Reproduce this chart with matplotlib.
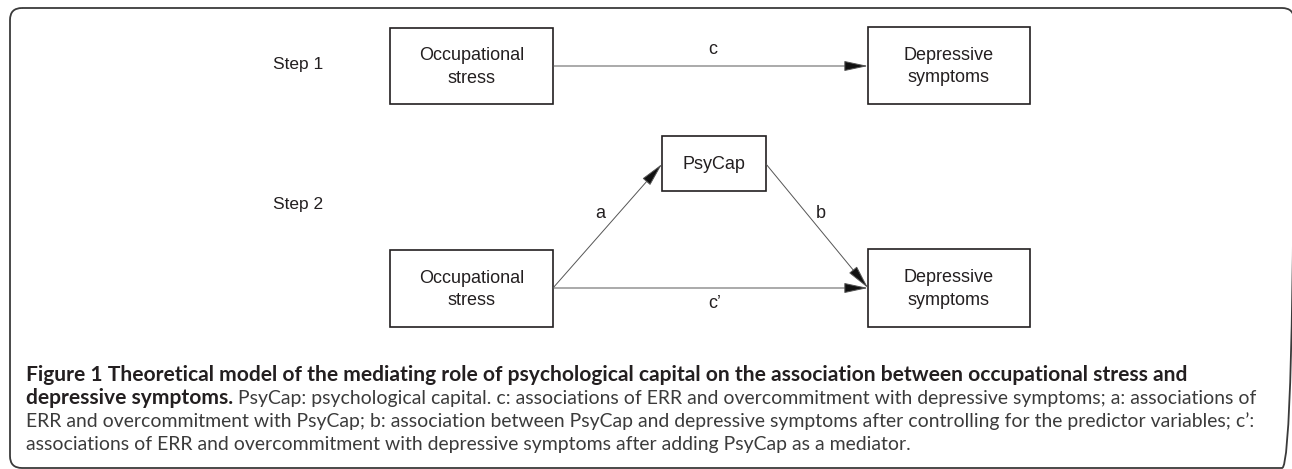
import matplotlib.pyplot as plt
from matplotlib.patches import Rectangle, FancyBboxPatch, FancyArrowPatch, ArrowStyle

# diagram content
step_labels = ['Step 1', 'Step 2']
node_names = ['stress1', 'dep1', 'psycap', 'stress2', 'dep2']
node_texts = ['Occupational\nstress', 'Depressive\nsymptoms', 'PsyCap',
              'Occupational\nstress', 'Depressive\nsymptoms']
path_labels = ['c', 'a', 'b', "c\u2019"]

caption_lines = [
    [('Figure 1 Theoretical model of the mediating role of psychological capital on the association between occupational stress and', 'bold')],
    [('depressive symptoms.', 'bold'),
     (' PsyCap: psychological capital. c: associations of ERR and overcommitment with depressive symptoms; a: associations of', 'normal')],
    [('ERR and overcommitment with PsyCap; b: association between PsyCap and depressive symptoms after controlling for the predictor variables; c\u2019:', 'normal')],
    [('associations of ERR and overcommitment with depressive symptoms after adding PsyCap as a mediator.', 'normal')],
]

# layout (pixel coordinates, y down)
boxes = {
    'stress1': (390, 28, 553, 104),
    'dep1': (868, 27, 1030, 104),
    'psycap': (662, 136, 766, 191),
    'stress2': (390, 250, 553, 327),
    'dep2': (868, 249, 1030, 327),
}
step_pos = [(298, 64), (298, 204)]
arrows = [((553, 66), (868, 66)),
          ((553, 288), (662, 164)),
          ((766, 164), (868, 288)),
          ((553, 288), (868, 288))]
label_pos = [(713, 50), (600, 213), (821, 213), (715, 303)]

W, H = 1292, 469
fig = plt.figure(figsize=(W / 100, H / 100), dpi=100)
ax = fig.add_axes([0, 0, 1, 1])
ax.set_xlim(0, W)
ax.set_ylim(H, 0)
ax.axis('off')

dark = '#231f20'
sans = ['Liberation Sans', 'DejaVu Sans']

# outer frame (right side runs off the picture)
ax.add_patch(FancyBboxPatch((10, 8), 1284, 460, boxstyle='round,pad=0,rounding_size=12',
                            fill=False, ec='#3a3a3a', lw=1.3))

for name, txt in zip(node_names, node_texts):
    x0, y0, x1, y1 = boxes[name]
    ax.add_patch(Rectangle((x0, y0), x1 - x0, y1 - y0, fill=False, ec=dark, lw=1.2))
    parts = txt.split('\n')
    cx, cy = (x0 + x1) / 2, (y0 + y1) / 2
    for i, p in enumerate(parts):
        by = cy + 5.5 + (i - (len(parts) - 1) / 2) * 22.4
        ax.text(cx, by, p, ha='center', va='baseline', fontsize=13, family=sans, color=dark)

for lab, (x, y) in zip(step_labels, step_pos):
    ax.text(x, y, lab, ha='center', va='center', fontsize=12.5, family=sans, color=dark)

style = ArrowStyle('-|>', head_length=1.5, head_width=0.32)
for (a, b) in arrows:
    ax.add_patch(FancyArrowPatch(a, b, arrowstyle=style, mutation_scale=10,
                                 shrinkA=0, shrinkB=0, lw=0.7,
                                 fc='#111111', ec='#555555'))

for lab, (x, y) in zip(path_labels, label_pos):
    ax.text(x, y, lab, ha='center', va='center', fontsize=13, family=sans, color=dark)

# caption: fit font sizes so lines span their widths in the original
cap_font = ['Lato', 'DejaVu Sans']
fig.canvas.draw()
r = fig.canvas.get_renderer()


def width_at(txt, wt):
    t = ax.text(0, 0, txt, fontsize=10, family=cap_font, fontweight=wt)
    w = t.get_window_extent(r).width
    t.remove()
    return w


fs = {'normal': 10 * (1254 - 26) / width_at(caption_lines[2][0][0], 'normal'),
      'bold': 10 * (1187 - 26) / width_at(caption_lines[0][0][0], 'bold')}

cap_base = [381, 404, 427, 450]
for runs, y in zip(caption_lines, cap_base):
    x = 26
    for txt, wt in runs:
        t = ax.text(x, y, txt, ha='left', va='baseline', fontsize=fs[wt], family=cap_font,
                    fontweight=wt, color=dark if wt == 'bold' else '#3b3b3b')
        x += t.get_window_extent(r).width

fig.savefig('out.png', dpi=100)
